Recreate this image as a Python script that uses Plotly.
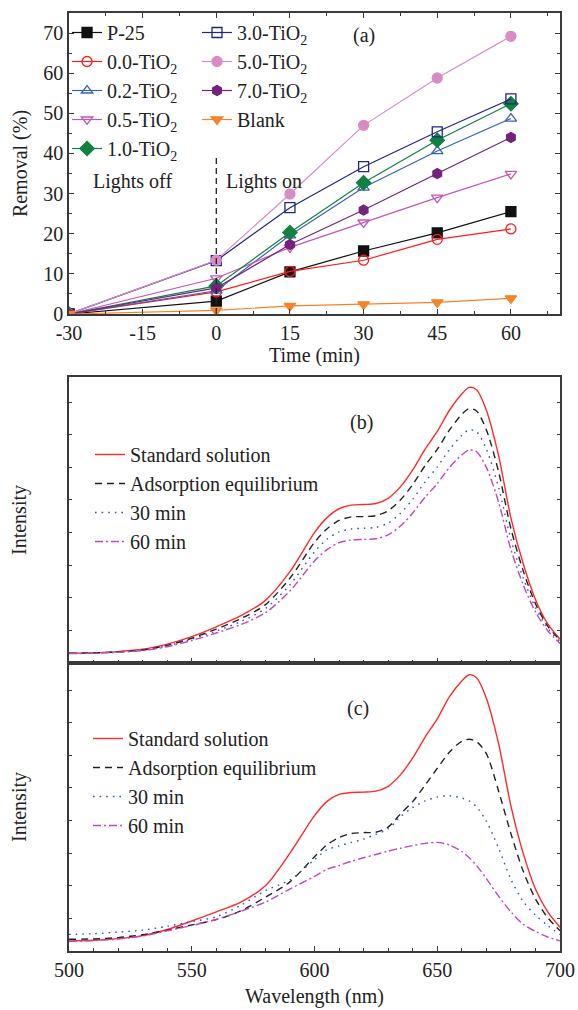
import plotly.graph_objects as go

# ---------------- Panel (a) data ----------------
time_min = [-30, 0, 15, 30, 45, 60]
p25 = [0, 3.2, 10.5, 15.7, 20.2, 25.5]
tio2_00 = [0, 5.5, 10.6, 13.4, 18.6, 21.2]
tio2_02 = [0, 5.8, 19.6, 31.5, 40.6, 48.7]
tio2_05 = [0, 8.9, 16.6, 22.8, 29.0, 34.9]
tio2_10 = [0, 7.0, 20.3, 32.7, 43.3, 52.4]
tio2_30 = [0, 13.3, 26.5, 36.7, 45.4, 53.6]
tio2_50 = [0, 13.4, 29.9, 47.0, 58.8, 69.2]
tio2_70 = [0, 6.5, 17.3, 25.9, 35.0, 44.0]
blank = [0, 0.9, 2.0, 2.4, 2.9, 3.9]

time_ticks = [-30, -15, 0, 15, 30, 45, 60]
time_tick_labels = ["-30", "-15", "0", "15", "30", "45", "60"]
removal_ticks = [0, 10, 20, 30, 40, 50, 60, 70]
lights_x = [0, 0]
lights_y = [0, 39]

# ---------------- Panels (b), (c) data ----------------
wavelength = [500, 510, 520, 530, 540, 550, 560, 570, 580, 590, 600, 605, 610, 615,
              620, 625, 630, 635, 640, 645, 650, 655, 660, 663, 666, 670, 675, 680,
              685, 690, 695, 700]

b_standard = [0.30, 0.31, 0.35, 0.42, 0.58, 0.81, 1.11, 1.45, 1.92, 2.80, 4.00, 4.45, 4.73, 4.84,
              4.86, 4.89, 5.05, 5.40, 5.92, 6.55, 7.10, 7.75, 8.25, 8.45, 8.38, 7.75, 6.35, 4.45,
              3.05, 1.95, 1.20, 0.73]
b_adsorption = [0.30, 0.31, 0.34, 0.40, 0.54, 0.76, 1.04, 1.36, 1.79, 2.60, 3.70, 4.11, 4.37, 4.48,
                4.49, 4.52, 4.67, 5.00, 5.47, 6.05, 6.55, 7.15, 7.62, 7.80, 7.73, 7.15, 5.86, 4.12,
                2.83, 1.82, 1.13, 0.70]
b_30min = [0.30, 0.31, 0.34, 0.39, 0.53, 0.73, 0.98, 1.27, 1.67, 2.40, 3.41, 3.79, 4.02, 4.11,
           4.13, 4.16, 4.29, 4.59, 5.02, 5.55, 6.01, 6.55, 6.98, 7.15, 7.09, 6.56, 5.38, 3.79,
           2.61, 1.70, 1.07, 0.66]
b_60min = [0.29, 0.30, 0.33, 0.38, 0.50, 0.69, 0.92, 1.18, 1.54, 2.21, 3.13, 3.47, 3.69, 3.77,
           3.79, 3.81, 3.93, 4.20, 4.60, 5.08, 5.50, 6.00, 6.38, 6.53, 6.48, 6.00, 4.93, 3.48,
           2.40, 1.57, 0.99, 0.60]

c_standard = [0.31, 0.33, 0.38, 0.47, 0.66, 0.92, 1.20, 1.50, 2.00, 3.00, 4.15, 4.58, 4.80, 4.86,
              4.87, 4.90, 5.05, 5.40, 5.92, 6.55, 7.12, 7.80, 8.28, 8.47, 8.38, 7.75, 6.35, 4.45,
              3.00, 1.90, 1.20, 0.73]
c_adsorption = [0.36, 0.37, 0.41, 0.50, 0.64, 0.80, 0.96, 1.23, 1.65, 2.12, 2.89, 3.25, 3.48, 3.60,
                3.63, 3.64, 3.80, 4.20, 4.58, 5.08, 5.60, 6.10, 6.43, 6.49, 6.42, 6.05, 4.90, 3.60,
                2.45, 1.60, 1.02, 0.62]
c_30min = [0.51, 0.53, 0.58, 0.64, 0.76, 0.90, 1.05, 1.40, 1.85, 2.18, 2.80, 3.10, 3.22, 3.33,
           3.43, 3.58, 3.74, 4.12, 4.40, 4.60, 4.72, 4.76, 4.69, 4.60, 4.42, 3.98, 3.15, 2.20,
           1.52, 1.10, 0.78, 0.50]
c_60min = [0.30, 0.32, 0.37, 0.46, 0.62, 0.78, 0.97, 1.22, 1.50, 1.90, 2.29, 2.50, 2.62, 2.75,
           2.86, 2.96, 3.06, 3.15, 3.23, 3.30, 3.33, 3.25, 3.05, 2.86, 2.62, 2.22, 1.68, 1.20,
           0.82, 0.60, 0.43, 0.31]

wl_ticks = [500, 550, 600, 650, 700]
wl_tick_labels = ["500", "550", "600", "650", "700"]

FONT = "Liberation Serif"
AXC = "#3a3a3a"

fig = go.Figure()

series_a = [
    ("P-25", p25, "#111111", "square", "legend"),
    ("0.0-TiO<sub>2</sub>", tio2_00, "#ff1a1a", "circle-open", "legend"),
    ("0.2-TiO<sub>2</sub>", tio2_02, "#3d63b5", "triangle-up-open", "legend"),
    ("0.5-TiO<sub>2</sub>", tio2_05, "#c455b8", "triangle-down-open", "legend"),
    ("1.0-TiO<sub>2</sub>", tio2_10, "#128040", "diamond", "legend"),
    ("3.0-TiO<sub>2</sub>", tio2_30, "#232680", "square-open", "legend2"),
    ("5.0-TiO<sub>2</sub>", tio2_50, "#d88cc6", "circle", "legend2"),
    ("7.0-TiO<sub>2</sub>", tio2_70, "#74227e", "hexagon", "legend2"),
    ("Blank", blank, "#f5832a", "triangle-down", "legend2"),
]
for name, vals, col, sym, lg in series_a:
    fig.add_trace(go.Scatter(
        x=time_min, y=vals, name=name, mode="lines+markers",
        line=dict(color=col, width=1.2),
        marker=dict(symbol=sym, size=10 if "diamond" not in sym else 11, color=col,
                    line=dict(color=col, width=1.3)),
        xaxis="x", yaxis="y", legend=lg))

fig.add_trace(go.Scatter(x=lights_x, y=lights_y, mode="lines", showlegend=False,
                         line=dict(color="#222222", width=1.3, dash="6px,4px"),
                         xaxis="x", yaxis="y"))

styles = [
    ("Standard solution", "#ff2a2a", "solid"),
    ("Adsorption equilibrium", "#222222", "7px,5px"),
    ("30 min", "#3355cc", "1.6px,5px"),
    ("60 min", "#c048c0", "8px,3px,2px,3px"),
]
for (name, col, dash), vals in zip(styles, [b_standard, b_adsorption, b_30min, b_60min]):
    fig.add_trace(go.Scatter(x=wavelength, y=vals, name=name, mode="lines",
                             line=dict(color=col, width=1.4, dash=dash, shape="spline", smoothing=0.8),
                             xaxis="x2", yaxis="y2", legend="legend3"))
for (name, col, dash), vals in zip(styles, [c_standard, c_adsorption, c_30min, c_60min]):
    fig.add_trace(go.Scatter(x=wavelength, y=vals, name=name, mode="lines",
                             line=dict(color=col, width=1.4, dash=dash, shape="spline", smoothing=0.8),
                             xaxis="x3", yaxis="y3", legend="legend4"))

axis_common = dict(showline=True, linecolor=AXC, linewidth=1.5, ticks="inside",
                   tickcolor=AXC, tickwidth=1.3, ticklen=5, showgrid=False, zeroline=False,
                   tickfont=dict(family=FONT, size=20, color="#222"),
                   automargin=False)

H = 1010
T, B = 13, 59
PH = H - T - B
def py(ypix):
    return (H - B - ypix) / PH

fig.update_layout(
    width=578, height=1010,
    margin=dict(l=69, r=18, t=T, b=B),
    paper_bgcolor="white", plot_bgcolor="white",
    font=dict(family=FONT, size=20, color="#222"),
    xaxis=dict(axis_common, domain=[0, 1], anchor="y", range=[-30, 70],
               tickmode="array", tickvals=time_ticks, ticktext=time_tick_labels,
               mirror="ticks",
               minor=dict(ticks="inside", ticklen=3, tickcolor=AXC, dtick=7.5, tick0=-30),
               title=dict(text="Time (min)", font=dict(family=FONT, size=20), standoff=4)),
    yaxis=dict(axis_common, domain=[py(314), 1.0], anchor="x", range=[0, 75],
               tickmode="array", tickvals=removal_ticks, mirror="ticks",
               minor=dict(ticks="inside", ticklen=3, tickcolor=AXC, dtick=5, tick0=0),
               title=dict(text="Removal (%)", font=dict(family=FONT, size=20), standoff=10)),
    xaxis2=dict(axis_common, domain=[0, 1], anchor="y2", range=[500, 700],
                tickmode="array", tickvals=wl_ticks, showticklabels=False, mirror=True,
                minor=dict(ticks="inside", ticklen=3, tickcolor=AXC, dtick=10, tick0=500)),
    yaxis2=dict(axis_common, domain=[py(663), py(377)], anchor="x2", range=[0, 8.77],
                dtick=1, tick0=0, showticklabels=False, mirror="ticks", ticklen=3,
                title=dict(text="Intensity", font=dict(family=FONT, size=20), standoff=35)),
    xaxis3=dict(axis_common, domain=[0, 1], anchor="y3", range=[500, 700],
                tickmode="array", tickvals=wl_ticks, ticktext=wl_tick_labels, mirror=True,
                minor=dict(ticks="inside", ticklen=3, tickcolor=AXC, dtick=10, tick0=500),
                title=dict(text="Wavelength (nm)", font=dict(family=FONT, size=20), standoff=9)),
    yaxis3=dict(axis_common, domain=[0, py(663)], anchor="x3", range=[0, 8.83],
                dtick=1, tick0=0, showticklabels=False, mirror="ticks", ticklen=3,
                title=dict(text="Intensity", font=dict(family=FONT, size=20), standoff=35)),
    legend=dict(x=-0.004, y=py(13), xanchor="left", yanchor="top", bgcolor="rgba(0,0,0,0)",
                font=dict(family=FONT, size=20), tracegroupgap=0, itemwidth=30),
    legend2=dict(x=(197 - 69) / 491, y=py(13), xanchor="left", yanchor="top",
                 bgcolor="rgba(0,0,0,0)", font=dict(family=FONT, size=20), itemwidth=30),
    legend3=dict(x=(90 - 69) / 491, y=py(435), xanchor="left", yanchor="top",
                 bgcolor="rgba(0,0,0,0)", font=dict(family=FONT, size=20), itemwidth=30),
    legend4=dict(x=(88 - 69) / 491, y=py(719), xanchor="left", yanchor="top",
                 bgcolor="rgba(0,0,0,0)", font=dict(family=FONT, size=20), itemwidth=30),
    showlegend=True,
)

ann_font = dict(family=FONT, size=20, color="#222")
fig.add_annotation(x=30, y=69.5, xref="x", yref="y", text="(a)", showarrow=False, font=ann_font)
fig.add_annotation(x=-17, y=33, xref="x", yref="y", text="Lights off", showarrow=False, font=ann_font)
fig.add_annotation(x=9.8, y=33, xref="x", yref="y", text="Lights on", showarrow=False, font=ann_font)
fig.add_annotation(x=619.3, y=7.36, xref="x2", yref="y2", text="(b)", showarrow=False, font=ann_font)
fig.add_annotation(x=617.7, y=7.45, xref="x3", yref="y3", text="(c)", showarrow=False, font=ann_font)

fig.write_html("out.html", config={"displayModeBar": False},
               post_script="document.body.style.margin='0';document.body.style.overflow='hidden';")
